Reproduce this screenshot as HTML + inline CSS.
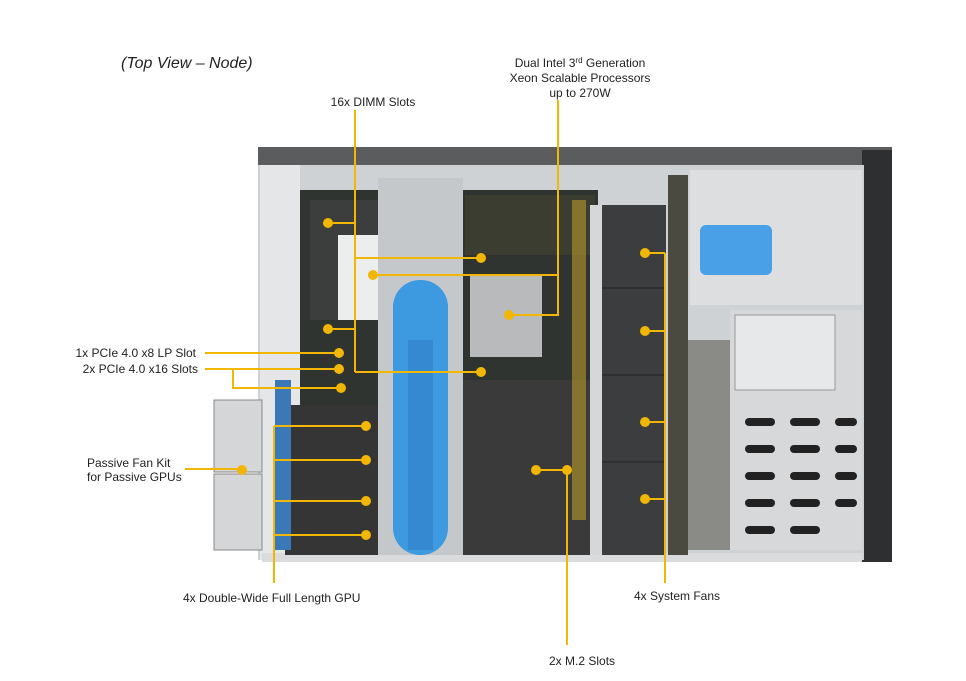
<!DOCTYPE html>
<html><head><meta charset="utf-8"><style>
html,body{margin:0;padding:0;background:#fff;}
svg{display:block;}
text{font-family:"Liberation Sans",Arial,sans-serif;font-size:12px;fill:#222;}
</style></head><body>
<svg width="966" height="681" viewBox="0 0 966 681" xmlns="http://www.w3.org/2000/svg">
<rect x="258" y="147" width="634" height="18" fill="#5a5c5e"/>
<rect x="862" y="150" width="30" height="412" fill="#2e2f31"/>
<rect x="258" y="165" width="606" height="395" fill="#cfd2d4"/>
<rect x="260" y="165" width="40" height="395" fill="#e4e6e8"/>
<rect x="262" y="553" width="600" height="9" fill="#d9dbdd"/>
<rect x="214" y="400" width="48" height="72" fill="#d4d6d8" stroke="#888"/>
<rect x="214" y="474" width="48" height="76" fill="#d4d6d8" stroke="#888"/>
<rect x="300" y="190" width="298" height="365" fill="#2f3430"/>
<rect x="310" y="200" width="70" height="120" fill="#3b3e3c"/>
<rect x="338" y="235" width="42" height="85" fill="#eceeee"/>
<rect x="285" y="405" width="95" height="150" fill="#353535"/>
<rect x="275" y="380" width="16" height="170" fill="#3a78b8"/>
<rect x="463" y="380" width="130" height="175" fill="#3a3a3a"/>
<rect x="465" y="195" width="130" height="60" fill="#3a3d30"/>
<rect x="470" y="275" width="72" height="82" fill="#b8babc"/>
<rect x="572" y="200" width="14" height="320" fill="#b89a28" opacity="0.6"/>
<rect x="378" y="178" width="85" height="377" fill="#c5c8cb"/>
<rect x="393" y="280" width="55" height="275" rx="27" fill="#3d9ae0"/>
<rect x="408" y="340" width="25" height="210" fill="#2f7fc4" opacity="0.6"/>
<rect x="590" y="205" width="12" height="350" fill="#d5d7d9"/>
<rect x="602" y="205" width="64" height="350" fill="#3c3d3f"/>
<line x1="602" y1="288" x2="666" y2="288" stroke="#222"/>
<line x1="602" y1="375" x2="666" y2="375" stroke="#222"/>
<line x1="602" y1="462" x2="666" y2="462" stroke="#222"/>
<rect x="668" y="175" width="20" height="380" fill="#4a4a40"/>
<rect x="690" y="170" width="172" height="135" fill="#dcdee0"/>
<rect x="700" y="225" width="72" height="50" rx="6" fill="#4aa0e6"/>
<rect x="688" y="340" width="42" height="210" fill="#8a8a86"/>
<rect x="730" y="310" width="132" height="240" fill="#d6d8da"/>
<rect x="735" y="315" width="100" height="75" fill="#e6e8ea" stroke="#999"/>
<g fill="#222">
<rect x="745" y="418" width="30" height="8" rx="4"/><rect x="790" y="418" width="30" height="8" rx="4"/><rect x="835" y="418" width="22" height="8" rx="4"/>
<rect x="745" y="445" width="30" height="8" rx="4"/><rect x="790" y="445" width="30" height="8" rx="4"/><rect x="835" y="445" width="22" height="8" rx="4"/>
<rect x="745" y="472" width="30" height="8" rx="4"/><rect x="790" y="472" width="30" height="8" rx="4"/><rect x="835" y="472" width="22" height="8" rx="4"/>
<rect x="745" y="499" width="30" height="8" rx="4"/><rect x="790" y="499" width="30" height="8" rx="4"/><rect x="835" y="499" width="22" height="8" rx="4"/>
<rect x="745" y="526" width="30" height="8" rx="4"/><rect x="790" y="526" width="30" height="8" rx="4"/>
</g>
<g stroke="#f2b705" stroke-width="2" fill="none">
<path d="M355 110V372M355 258H481M355 372H481M328 223H355M328 329H355"/>
<path d="M558 100V315H509M558 275H373"/>
<path d="M205 353H339M205 369H339M233 369V388H341"/>
<path d="M185 469H242"/>
<path d="M274 426V583M274 426H366M274 460H366M274 501H366M274 535H366"/>
<path d="M567 470V645M536 470H567"/>
<path d="M665 253V583M645 253H665M645 331H665M645 422H665M645 499H665"/>
</g>
<g fill="#f2b705">
<circle cx="481" cy="258" r="5"/><circle cx="481" cy="372" r="5"/><circle cx="328" cy="223" r="5"/><circle cx="328" cy="329" r="5"/>
<circle cx="509" cy="315" r="5"/><circle cx="373" cy="275" r="5"/>
<circle cx="339" cy="353" r="5"/><circle cx="339" cy="369" r="5"/><circle cx="341" cy="388" r="5"/>
<circle cx="242" cy="470" r="5"/>
<circle cx="366" cy="426" r="5"/><circle cx="366" cy="460" r="5"/><circle cx="366" cy="501" r="5"/><circle cx="366" cy="535" r="5"/>
<circle cx="536" cy="470" r="5"/><circle cx="567" cy="470" r="5"/>
<circle cx="645" cy="253" r="5"/><circle cx="645" cy="331" r="5"/><circle cx="645" cy="422" r="5"/><circle cx="645" cy="499" r="5"/>
</g>
<text x="121" y="68" style="font-size:16px;font-style:italic">(Top View – Node)</text>
<text x="373" y="106" text-anchor="middle">16x DIMM Slots</text>
<text x="580" y="67" text-anchor="middle">Dual Intel 3<tspan dy="-4" style="font-size:8px">rd</tspan><tspan dy="4"> Generation</tspan></text>
<text x="580" y="82" text-anchor="middle">Xeon Scalable Processors</text>
<text x="580" y="97" text-anchor="middle">up to 270W</text>
<text x="196" y="357" text-anchor="end">1x PCIe 4.0 x8 LP Slot</text>
<text x="198" y="373" text-anchor="end">2x PCIe 4.0 x16 Slots</text>
<text x="87" y="467">Passive Fan Kit</text>
<text x="87" y="481">for Passive GPUs</text>
<text x="183" y="602">4x Double-Wide Full Length GPU</text>
<text x="634" y="600">4x System Fans</text>
<text x="549" y="665">2x M.2 Slots</text>
</svg>
</body></html>
